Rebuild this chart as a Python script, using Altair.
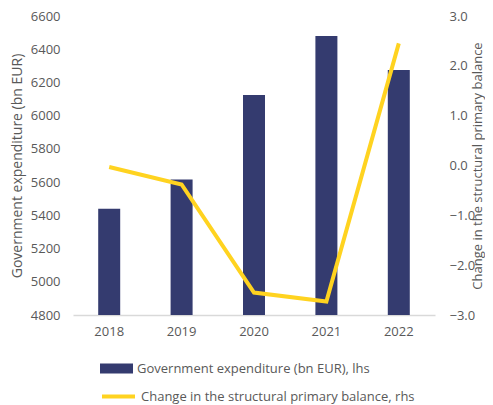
import altair as alt
import pandas as pd

years = ["2018", "2019", "2020", "2021", "2022"]
expenditure = [5440, 5615, 6125, 6480, 6275]
balance_change = [-0.03, -0.38, -2.55, -2.73, 2.45]

bar_label = "Government expenditure (bn EUR), lhs"
line_label = "Change in the structural primary balance, rhs"

df = pd.DataFrame({
    "year": years,
    "exp": expenditure,
    "bal": balance_change,
    "s1": [bar_label] * len(years),
    "s2": [line_label] * len(years),
})

FONT = "Open Sans"
GREY = "#595959"

x = alt.X("year:O", title=None,
          scale=alt.Scale(paddingInner=0.7, paddingOuter=0.35),
          axis=alt.Axis(labelAngle=0, ticks=False, domainColor="#d9d9d9",
                        domainWidth=1.5,
                        labelColor=GREY, labelFontSize=13, labelFont=FONT,
                        labelPadding=10))

bars = alt.Chart(df).mark_bar(size=22, clip=True).encode(
    x=x,
    y=alt.Y("exp:Q", title="Government expenditure (bn EUR)",
            scale=alt.Scale(domain=[4800, 6600], zero=False, nice=False),
            axis=alt.Axis(values=list(range(4800, 6601, 200)), format="d", grid=False,
                          ticks=False, domain=False, labelColor=GREY,
                          labelFontSize=13, labelFont=FONT, labelPadding=13,
                          titleColor=GREY, titleFontSize=14, titleFont=FONT,
                          titleFontWeight="normal", titlePadding=6)),
    color=alt.Color("s1:N", scale=alt.Scale(range=["#343B6F"]),
                    legend=alt.Legend(title=None, orient="none", legendX=27, legendY=336,
                                      symbolType="M-1,-0.3L1,-0.3L1,0.3L-1,0.3Z",
                                      symbolSize=1089, symbolStrokeWidth=0,
                                      labelFontSize=13, labelFont=FONT, labelColor=GREY,
                                      labelOffset=4, labelLimit=0)),
)

line = alt.Chart(df).mark_line(strokeWidth=4).encode(
    x=x,
    y=alt.Y("bal:Q", title="Change in the structural primary balance",
            scale=alt.Scale(domain=[-3, 3], nice=False),
            axis=alt.Axis(orient="right", values=[-3, -2, -1, 0, 1, 2, 3], format=".1f",
                          grid=False, ticks=False, domain=False, labelColor=GREY,
                          labelFontSize=13, labelFont=FONT, labelPadding=14,
                          titleColor=GREY, titleFontSize=13, titleFont=FONT,
                          titleFontWeight="normal", titleAngle=270,
                          titleBaseline="middle", titleX=42)),
    stroke=alt.Stroke("s2:N", scale=alt.Scale(range=["#FFD320"]),
                      legend=alt.Legend(title=None, orient="none", legendX=27, legendY=362,
                                        symbolType="stroke", symbolSize=1089,
                                        symbolStrokeWidth=4,
                                        labelFontSize=13, labelFont=FONT, labelColor=GREY,
                                        labelOffset=4, labelLimit=0)),
)

chart = alt.layer(bars, line).resolve_scale(
    y="independent", color="independent", stroke="independent"
).properties(
    width=362, height=299,
    autosize=alt.AutoSizeParams(type="none"),
    padding={"left": 65, "top": 8, "right": 50, "bottom": 90},
).configure_view(stroke=None)

chart.save("out.html", embed_options={"renderer": "svg", "actions": False})
